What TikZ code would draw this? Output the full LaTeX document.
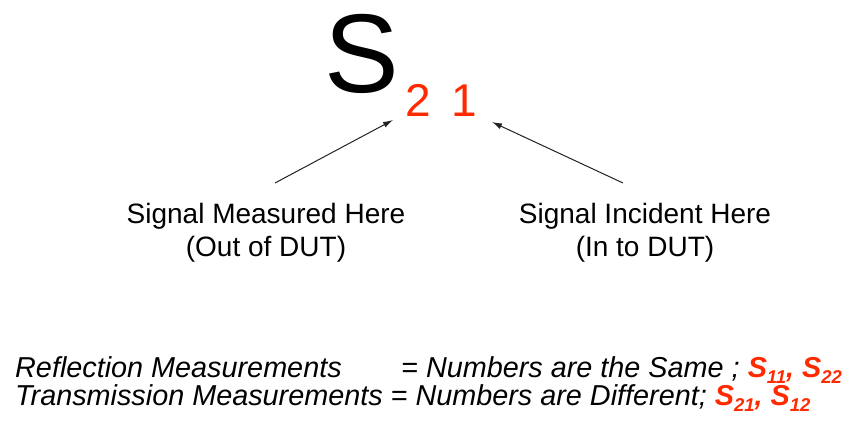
\documentclass[tikz,border=0pt]{standalone}
\usepackage{fontspec}
\setmainfont{Liberation Sans}
\usetikzlibrary{arrows.meta}
\definecolor{sred}{HTML}{FF2A00}
\definecolor{aline}{HTML}{222222}
\tikzset{
  lbl/.style={inner sep=0pt, font=\fontsize{28}{33}\selectfont, align=center},
  bot/.style={inner sep=0pt, anchor=base west, font=\fontsize{28.8}{28}\selectfont\itshape},
  ptr/.style={draw=aline, line width=1pt, -{Latex[length=10pt,width=6pt]}},
}
\newcommand{\rs}[2]{\textcolor{sred}{\bfseries S\raisebox{-6pt}{\fontsize{18.5}{18.5}\selectfont #1}#2}}
\begin{document}
\begin{tikzpicture}[x=1pt,y=-1pt]
\useasboundingbox (0,0) rectangle (849,423);
\node[inner sep=0pt, anchor=base west, font=\fontsize{112}{112}\selectfont] (bigS) at (324,92) {S};
\node[inner sep=0pt, anchor=base west, text=sred, font=\fontsize{46}{46}\selectfont] (subs) at (405,116) {2\ \,1};
\coordinate (h2) at (393,120);
\coordinate (h1) at (492,122);
\node[lbl] (meas) at (266,233) {Signal Measured Here\\(Out of DUT)};
\node[lbl] (inc) at (645,233) {Signal Incident Here\\(In to DUT)};
\coordinate (t2) at (275,183);
\coordinate (t1) at (623,183);
\draw[ptr] (t2) -- (h2);
\draw[ptr] (t1) -- (h1);
\node[bot] (r1a) at (15,377) {Reflection Measurements};
\node[bot] (r1b) at (401,377) {= Numbers are the Same ; \rs{11}{,} \rs{22}{}};
\node[bot] (r2) at (15,405) {Transmission Measurements = Numbers are Different; \rs{21}{,} \rs{12}{}};
\end{tikzpicture}
\end{document}
